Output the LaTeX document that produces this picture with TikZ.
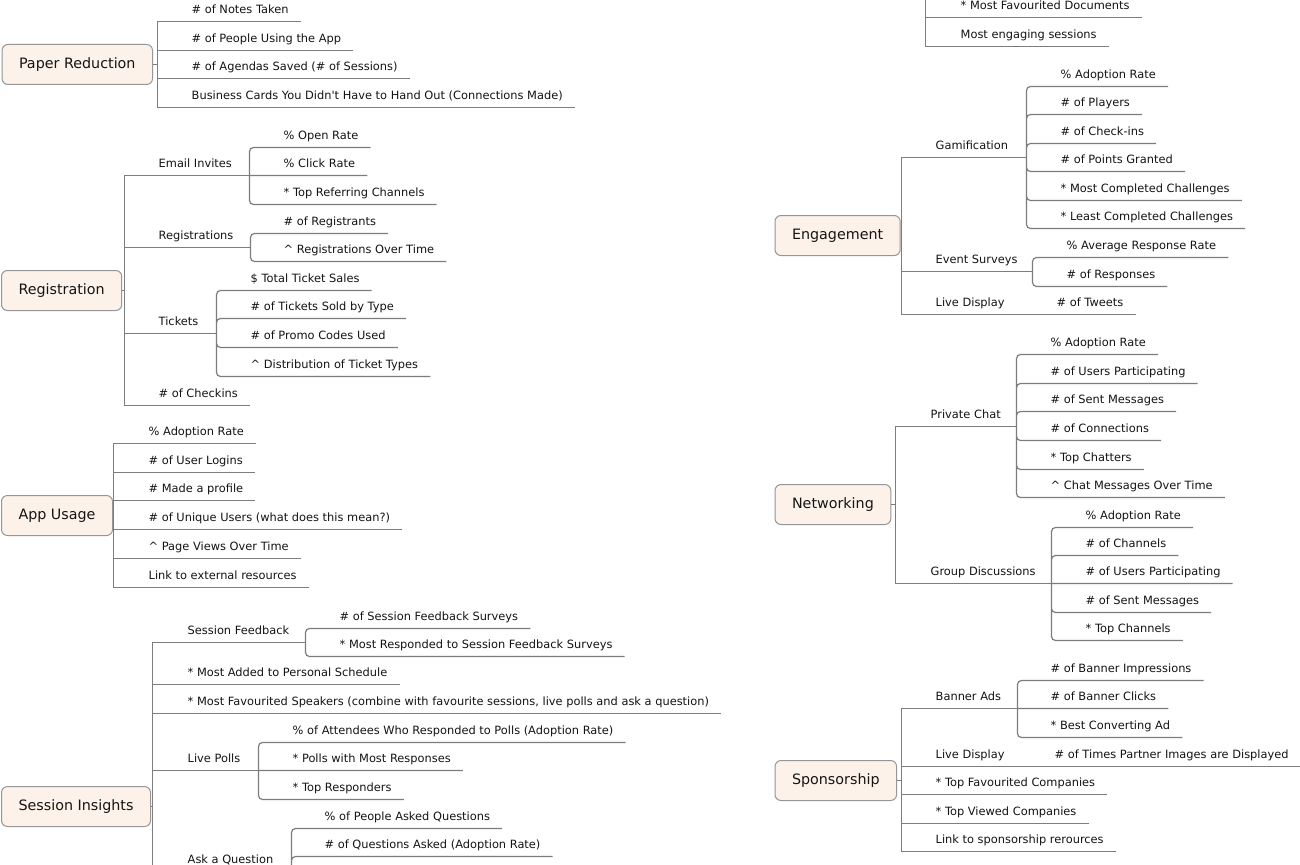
\documentclass[tikz,border=0pt]{standalone}
\usepackage{fontspec}
\setmainfont{DejaVu Sans}
\usepackage{tikz}
\definecolor{topicfill}{RGB}{252,242,233}
\definecolor{topicline}{RGB}{150,150,150}
\definecolor{branchline}{RGB}{125,125,125}
\definecolor{labeltext}{RGB}{20,20,20}
\tikzset{
  topic/.style={draw=topicline, fill=topicfill, line width=1pt, rounded corners=6pt,
    inner xsep=17pt, minimum height=40pt, anchor=west, text=labeltext,
    font=\fontsize{14.3}{16}\selectfont},
  leaf/.style={anchor=south west, inner sep=0pt, text depth=8pt, text=labeltext,
    font=\fontsize{11.4}{13}\selectfont},
  branch/.style={draw=branchline, line width=1.2pt},
  subbranch/.style={branch, rounded corners=4pt}
}

\begin{document}
\begin{tikzpicture}[x=1pt,y=-1pt]
\useasboundingbox (0,0) rectangle (1300,864);
\clip (0,0) rectangle (1300,864);
\fill[white] (0,0) rectangle (1300,864);
\begin{scope}[shift={(0.5,0.5)}]

% Paper Reduction
\node[topic] (pr) at (1,64) {Paper Reduction};
\coordinate (pr-s) at (157,64);
\node[leaf] (pr1) at (191,21) {\# of Notes Taken};
\node[leaf] (pr2) at (191,50) {\# of People Using the App};
\node[leaf] (pr3) at (191,78) {\# of Agendas Saved (\# of Sessions)};
\node[leaf] (pr4) at (191,107) {Business Cards You Didn\textquotesingle t Have to Hand Out (Connections Made)};
\draw[branch] (pr.east) -- (pr-s)
  ([xshift=12pt]pr1.south east) -| (pr-s) |- ([xshift=12pt]pr4.south east)
  foreach \n in {pr2,pr3} {(pr-s |- \n.south east) -- ([xshift=12pt]\n.south east)};

% Registration
\node[topic] (reg) at (0.5,290) {Registration};
\coordinate (reg-s) at (124,290);
\node[leaf] (ei) at (158,175) {Email Invites};
\coordinate (ei-s) at (249,175);
\node[leaf] (ei1) at (283,147) {\% Open Rate};
\node[leaf] (ei2) at (283,175) {\% Click Rate};
\node[leaf] (ei3) at (283,204) {* Top Referring Channels};
\node[leaf] (rs) at (158,247) {Registrations};
\coordinate (rs-s) at (250,247);
\node[leaf] (rs1) at (283,233) {\# of Registrants};
\node[leaf] (rs2) at (283,261) {\textasciicircum{} Registrations Over Time};
\node[leaf] (tk) at (158,333) {Tickets};
\coordinate (tk-s) at (216,333);
\node[leaf] (tk1) at (250,290) {\$ Total Ticket Sales};
\node[leaf] (tk2) at (250,318) {\# of Tickets Sold by Type};
\node[leaf] (tk3) at (250,347) {\# of Promo Codes Used};
\node[leaf] (tk4) at (250,376) {\textasciicircum{} Distribution of Ticket Types};
\node[leaf] (ck) at (158,405) {\# of Checkins};
\draw[branch] (reg.east) -- (reg-s)
  (ei-s) -| (reg-s) |- ([xshift=12pt]ck.south east)
  foreach \n in {rs,tk} {(reg-s |- \n-s) -- (\n-s)};
\draw[subbranch] foreach \n in {ei1,ei3} {(ei-s) |- ([xshift=12pt]\n.south east)}
  (ei-s) -- ([xshift=12pt]ei2.south east);
\draw[subbranch] foreach \n in {rs1,rs2} {(rs-s) |- ([xshift=12pt]\n.south east)};
\draw[subbranch] foreach \n in {tk1,tk2,tk3,tk4} {(tk-s) |- ([xshift=12pt]\n.south east)};

% App Usage
\node[topic] (au) at (0.5,515) {App Usage};
\coordinate (au-s) at (113,515);
\node[leaf] (au1) at (148,443) {\% Adoption Rate};
\node[leaf] (au2) at (148,472) {\# of User Logins};
\node[leaf] (au3) at (148,500) {\# Made a profile};
\node[leaf] (au4) at (148,529) {\# of Unique Users (what does this mean?)};
\node[leaf] (au5) at (148,558) {\textasciicircum{} Page Views Over Time};
\node[leaf] (au6) at (148,587) {Link to external resources};
\draw[branch] (au.east) -- (au-s)
  ([xshift=12pt]au1.south east) -| (au-s) |- ([xshift=12pt]au6.south east)
  foreach \n in {au2,au3,au4,au5} {(au-s |- \n.south east) -- ([xshift=12pt]\n.south east)};

% Session Insights
\node[topic] (si) at (0.5,806) {Session Insights};
\coordinate (si-s) at (152,806);
\coordinate (si-x) at (152,900);
\node[leaf] (sf) at (187,642) {Session Feedback};
\coordinate (sf-s) at (305,642);
\node[leaf] (sf1) at (339,628) {\# of Session Feedback Surveys};
\node[leaf] (sf2) at (339,656) {* Most Responded to Session Feedback Surveys};
\node[leaf] (sa) at (187,684) {* Most Added to Personal Schedule};
\node[leaf] (sm) at (187,713) {* Most Favourited Speakers (combine with favourite sessions, live polls and ask a question)};
\node[leaf] (lp) at (187,770) {Live Polls};
\coordinate (lp-s) at (258,770);
\node[leaf] (lp1) at (292,742) {\% of Attendees Who Responded to Polls (Adoption Rate)};
\node[leaf] (lp2) at (292,770) {* Polls with Most Responses};
\node[leaf] (lp3) at (292,799) {* Top Responders};
\node[leaf] (aq) at (187,871) {Ask a Question};
\coordinate (aq-s) at (291,871);
\node[leaf] (aq1) at (324,828) {\% of People Asked Questions};
\node[leaf] (aq2) at (324,856) {\# of Questions Asked (Adoption Rate)};
\draw[branch] (si.east) -- (si-s)
  (sf-s) -| (si-x)
  foreach \n in {sa,sm} {(si-s |- \n.south east) -- ([xshift=12pt]\n.south east)}
  foreach \n in {lp,aq} {(si-s |- \n-s) -- (\n-s)};
\draw[subbranch] foreach \n in {sf1,sf2} {(sf-s) |- ([xshift=12pt]\n.south east)};
\draw[subbranch] foreach \n in {lp1,lp3} {(lp-s) |- ([xshift=12pt]\n.south east)}
  (lp-s) -- ([xshift=12pt]lp2.south east);
\draw[subbranch] foreach \n in {aq1,aq2} {(aq-s) |- ([xshift=12pt]\n.south east)};

% topic above the page
\coordinate (fd-s) at (925,-20);
\node[leaf] (fd1) at (960,17) {* Most Favourited Documents};
\node[leaf] (fd2) at (960,46) {Most engaging sessions};
\draw[branch] (fd-s) |- ([xshift=12pt]fd2.south east)
  (fd-s |- fd1.south east) -- ([xshift=12pt]fd1.south east);

% Engagement
\node[topic] (eng) at (774,235) {Engagement};
\coordinate (eng-s) at (901,235);
\node[leaf] (gm) at (935,157) {Gamification};
\coordinate (gm-s) at (1026,157);
\node[leaf] (gm1) at (1060,86) {\% Adoption Rate};
\node[leaf] (gm2) at (1060,114) {\# of Players};
\node[leaf] (gm3) at (1060,143) {\# of Check-ins};
\node[leaf] (gm4) at (1060,171) {\# of Points Granted};
\node[leaf] (gm5) at (1060,200) {* Most Completed Challenges};
\node[leaf] (gm6) at (1060,228) {* Least Completed Challenges};
\node[leaf] (es) at (935,271) {Event Surveys};
\coordinate (es-s) at (1032,271);
\node[leaf] (es1) at (1066,257) {\% Average Response Rate};
\node[leaf] (es2) at (1066,286) {\# of Responses};
\node[leaf] (ld) at (935,314) {Live Display};
\node[leaf] (tw) at (1056,314) {\# of Tweets};
\draw[branch] (eng.east) -- (eng-s)
  (gm-s) -| (eng-s) |- (ld.south west) -- ([xshift=12pt]tw.south east)
  (eng-s |- es-s) -- (es-s);
\draw[subbranch] foreach \n in {gm1,gm2,gm3,gm4,gm5,gm6} {(gm-s) |- ([xshift=12pt]\n.south east)};
\draw[subbranch] foreach \n in {es1,es2} {(es-s) |- ([xshift=12pt]\n.south east)};

% Networking
\node[topic] (net) at (774,504) {Networking};
\coordinate (net-s) at (895,504);
\node[leaf] (pc) at (930,426) {Private Chat};
\coordinate (pc-s) at (1016,426);
\node[leaf] (pc1) at (1050,354) {\% Adoption Rate};
\node[leaf] (pc2) at (1050,383) {\# of Users Participating};
\node[leaf] (pc3) at (1050,411) {\# of Sent Messages};
\node[leaf] (pc4) at (1050,440) {\# of Connections};
\node[leaf] (pc5) at (1050,469) {* Top Chatters};
\node[leaf] (pc6) at (1050,497) {\textasciicircum{} Chat Messages Over Time};
\node[leaf] (gd) at (930,583) {Group Discussions};
\coordinate (gd-s) at (1051,583);
\node[leaf] (gd1) at (1085,527) {\% Adoption Rate};
\node[leaf] (gd2) at (1085,555) {\# of Channels};
\node[leaf] (gd3) at (1085,583) {\# of Users Participating};
\node[leaf] (gd4) at (1085,612) {\# of Sent Messages};
\node[leaf] (gd5) at (1085,640) {* Top Channels};
\draw[branch] (net.east) -- (net-s)
  (pc-s) -| (net-s) |- (gd-s);
\draw[subbranch] foreach \n in {pc1,pc2,pc3,pc4,pc5,pc6} {(pc-s) |- ([xshift=12pt]\n.south east)};
\draw[subbranch] foreach \n in {gd1,gd2,gd4,gd5} {(gd-s) |- ([xshift=12pt]\n.south east)}
  (gd-s) -- ([xshift=12pt]gd3.south east);

% Sponsorship
\node[topic] (sp) at (774,780) {Sponsorship};
\coordinate (sp-s) at (901,780);
\node[leaf] (ba) at (935,708) {Banner Ads};
\coordinate (ba-s) at (1017,708);
\node[leaf] (ba1) at (1050,680) {\# of Banner Impressions};
\node[leaf] (ba2) at (1050,708) {\# of Banner Clicks};
\node[leaf] (ba3) at (1050,737) {* Best Converting Ad};
\node[leaf] (sld) at (935,766) {Live Display};
\node[leaf] (sld1) at (1054,766) {\# of Times Partner Images are Displayed};
\node[leaf] (tf) at (935,794) {* Top Favourited Companies};
\node[leaf] (tv) at (935,823) {* Top Viewed Companies};
\node[leaf] (lk) at (935,851) {Link to sponsorship rerources};
\draw[branch] (sp.east) -- (sp-s)
  (ba-s) -| (sp-s) |- ([xshift=12pt]lk.south east)
  (sp-s |- sld.south west) -- ([xshift=12pt]sld1.south east)
  foreach \n in {tf,tv} {(sp-s |- \n.south east) -- ([xshift=12pt]\n.south east)};
\draw[subbranch] foreach \n in {ba1,ba3} {(ba-s) |- ([xshift=12pt]\n.south east)}
  (ba-s) -- ([xshift=12pt]ba2.south east);
\end{scope}
\end{tikzpicture}
\end{document}
